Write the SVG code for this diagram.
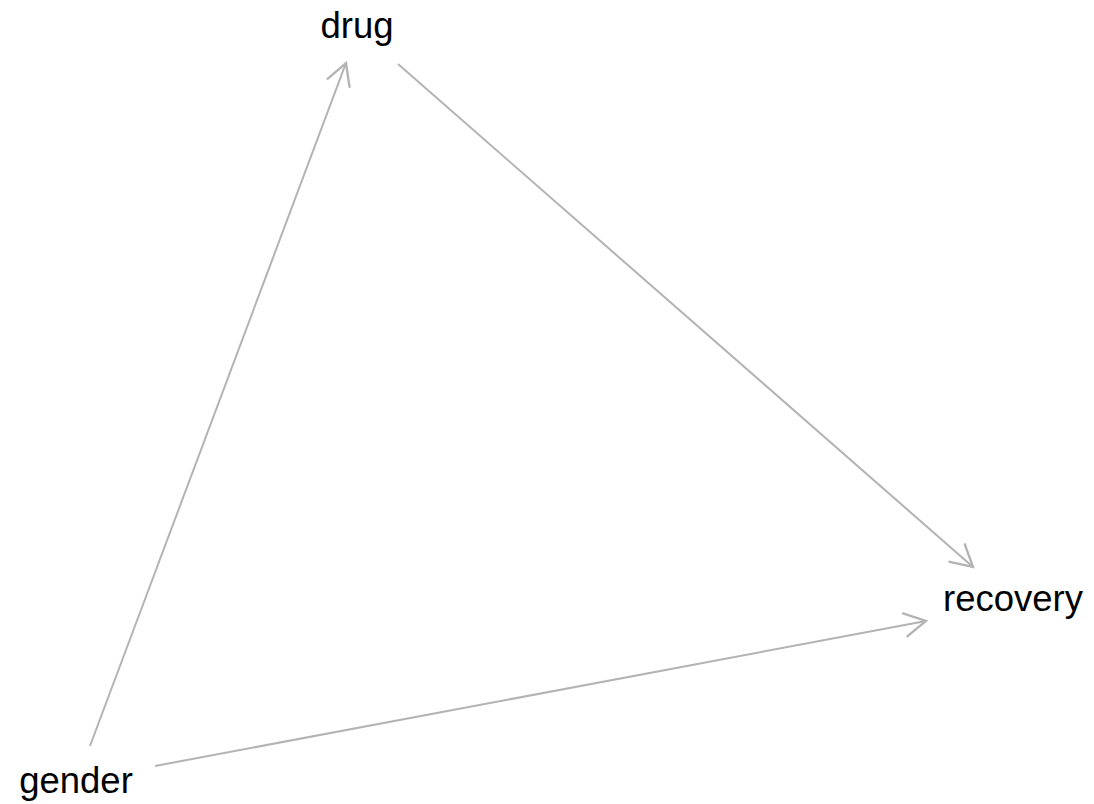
<svg xmlns="http://www.w3.org/2000/svg" width="1094" height="804" viewBox="0 0 1094 804">
<style>
.edge{stroke:#b3b3b3;stroke-width:2;fill:none;marker-end:url(#arr)}
.lbl{font-family:"Liberation Sans",Arial,sans-serif;font-size:36.5px;fill:#000}
</style>
<defs>
<marker id="arr" markerUnits="userSpaceOnUse" markerWidth="30" markerHeight="30" viewBox="-22 -13 26 26" refX="0" refY="0" orient="auto">
<path d="M-19,-10.5 L0,0 L-19,10.5" stroke="#b3b3b3" stroke-width="2" fill="none"/>
</marker>
</defs>
<rect width="1094" height="804" fill="#fff"/>
<g id="edges">
<line class="edge" x1="90" y1="746" x2="346" y2="63"/>
<line class="edge" x1="398" y1="64" x2="973" y2="567"/>
<line class="edge" x1="155" y1="766" x2="926" y2="621"/>
</g>
<g id="drug"><text class="lbl" x="357" y="38" text-anchor="middle">drug</text></g>
<g id="recovery"><text class="lbl" x="1013" y="611" text-anchor="middle">recovery</text></g>
<g id="gender"><text class="lbl" x="76" y="793" text-anchor="middle">gender</text></g>
</svg>
